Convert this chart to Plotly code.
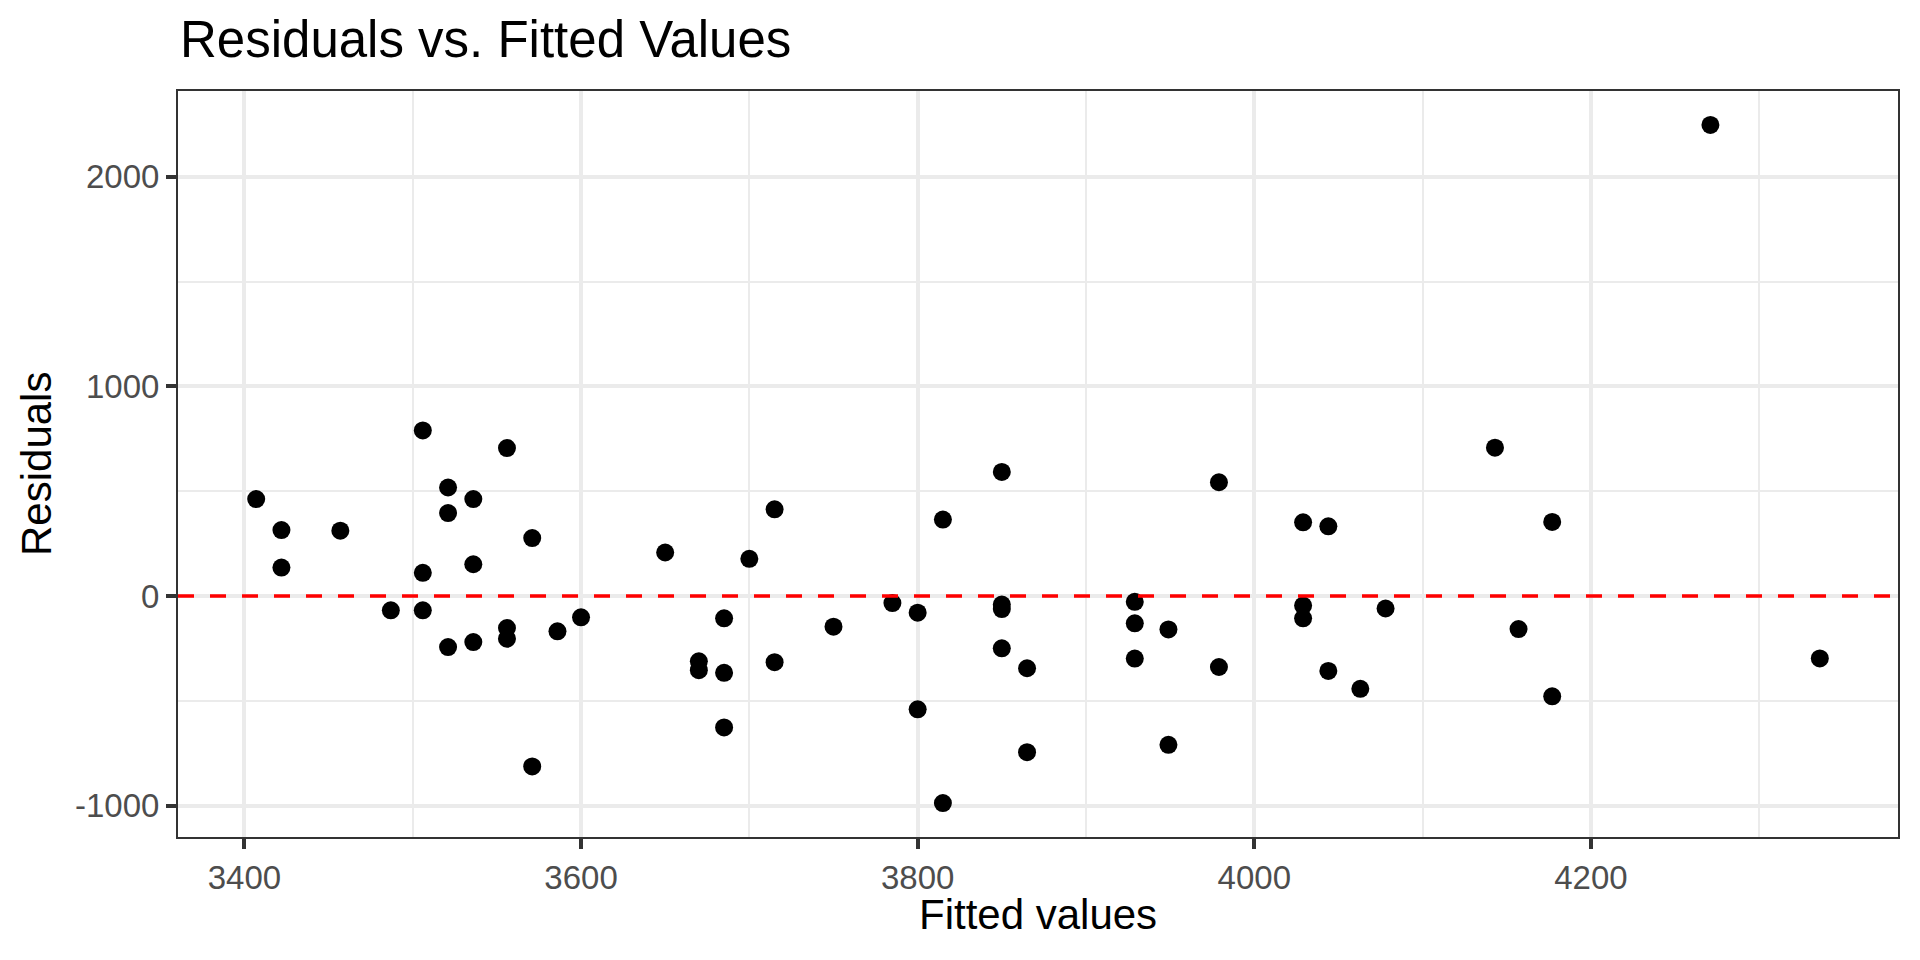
import plotly.graph_objects as go

# Data
fitted = [3407, 3422, 3422, 3457, 3487, 3506, 3506, 3506, 3521, 3521, 3521,
          3536, 3536, 3536, 3556, 3556, 3556, 3571, 3571, 3586, 3600, 3650,
          3670, 3670, 3685, 3685, 3685, 3700, 3715, 3715, 3750, 3785, 3800,
          3800, 3815, 3815, 3850, 3850, 3850, 3850, 3865, 3865, 3929, 3929,
          3929, 3949, 3949, 3979, 3979, 4029, 4029, 4029, 4044, 4044, 4063,
          4078, 4143, 4157, 4177, 4177, 4271, 4336]
residuals = [463, 315, 136, 312, -68, 790, 111, -68, 518, 396, -243,
             463, 152, -219, 706, -152, -203, 277, -812, -168, -101, 208,
             -311, -353, -106, -366, -626, 178, 414, -315, -146, -33, -79,
             -540, 365, -987, 592, -40, -62, -249, -344, -744, -27, -130,
             -298, -159, -709, 543, -338, 352, -45, -106, 333, -357, -442,
             -59, 708, -157, 354, -478, 2247, -297]

x_tickvals = [3400, 3600, 3800, 4000, 4200]
x_ticktext = ["3400", "3600", "3800", "4000", "4200"]
x_minorvals = [3500, 3700, 3900, 4100, 4300]
y_tickvals = [-1000, 0, 1000, 2000]
y_ticktext = ["-1000", "0", "1000", "2000"]
y_minorvals = [-500, 500, 1500]

title_text = "Residuals vs. Fitted Values"
x_title = "Fitted values"
y_title = "Residuals"
ref_line = 0


def expand(vals, mult=0.05):
    lo, hi = min(vals), max(vals)
    pad = (hi - lo) * mult
    return [lo - pad, hi + pad]


FONT = "Liberation Sans, Arial, Helvetica, sans-serif"
GRID = "#EBEBEB"

fig = go.Figure()
fig.add_trace(go.Scatter(
    x=fitted, y=residuals, mode="markers",
    marker=dict(color="black", size=18, line=dict(width=0)),
    showlegend=False, hoverinfo="x+y",
))

fig.add_shape(type="line", xref="paper", x0=0, x1=1, yref="y",
              y0=ref_line, y1=ref_line, layer="above",
              line=dict(color="#FF0000", width=3.5, dash="16px,16px"))

axis_common = dict(
    showgrid=True, gridcolor=GRID, gridwidth=4,
    zeroline=False,
    showline=True, linecolor="#333333", linewidth=2, mirror=True,
    ticks="outside", ticklen=10, tickwidth=4, tickcolor="#333333",
    tickfont=dict(family=FONT, size=33, color="#4D4D4D"),
    tickmode="array",
)

fig.update_xaxes(
    range=expand(fitted), tickvals=x_tickvals, ticktext=x_ticktext,
    minor=dict(tickmode="array", tickvals=x_minorvals, showgrid=True,
               gridcolor=GRID, gridwidth=2, ticks=""),
    **axis_common)
fig.update_yaxes(
    range=expand(residuals), tickvals=y_tickvals, ticktext=y_ticktext,
    minor=dict(tickmode="array", tickvals=y_minorvals, showgrid=True,
               gridcolor=GRID, gridwidth=2, ticks=""),
    **axis_common)

fig.update_layout(
    width=1904, height=944,
    margin=dict(l=170, r=14, t=83, b=115, pad=0),
    paper_bgcolor="white", plot_bgcolor="white",
    font=dict(family=FONT, color="black"),
    annotations=[
        dict(text=title_text, xref="paper", yref="paper", x=0, y=1,
             xanchor="left", yanchor="bottom", yshift=21, showarrow=False,
             font=dict(family=FONT, size=51, color="black")),
        dict(text=x_title, xref="paper", yref="paper", x=0.5, y=0,
             xanchor="center", yanchor="bottom", yshift=-103, showarrow=False,
             font=dict(family=FONT, size=42, color="black")),
        dict(text=y_title, xref="paper", yref="paper", x=0, y=0.5,
             xanchor="center", yanchor="middle", xshift=-142, textangle=-90,
             showarrow=False,
             font=dict(family=FONT, size=42, color="black")),
    ],
)

fig.write_html("out.html")
